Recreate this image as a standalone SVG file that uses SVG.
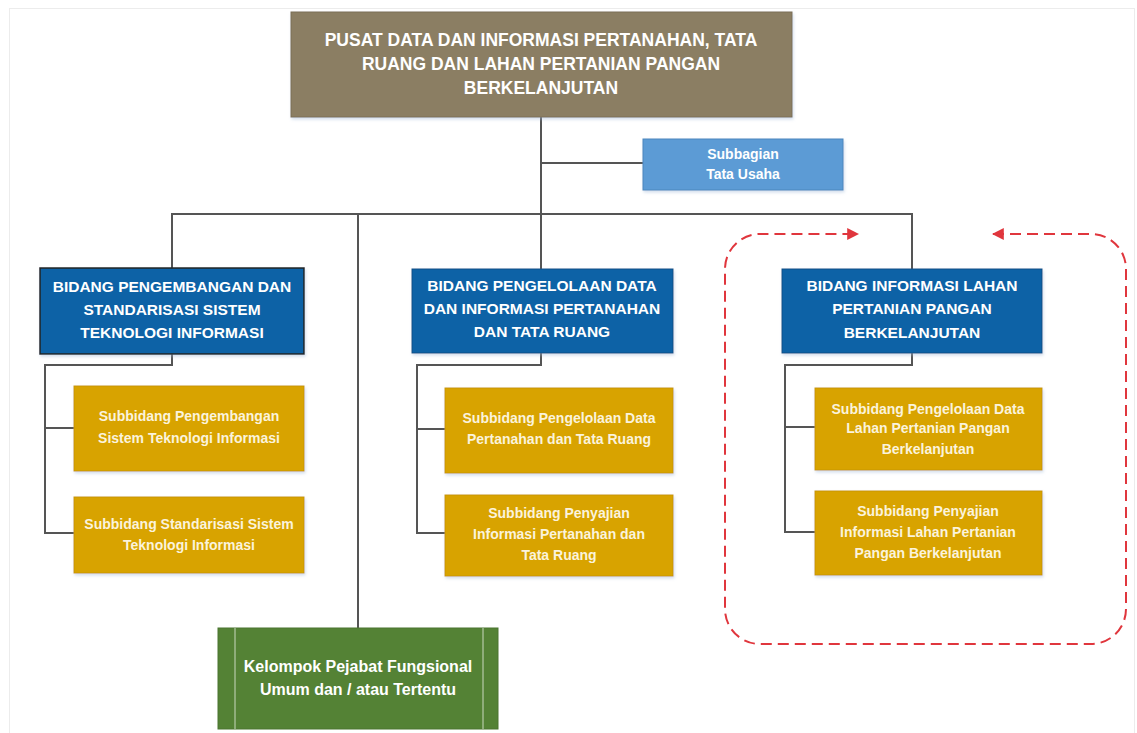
<svg xmlns="http://www.w3.org/2000/svg" width="1137" height="733" viewBox="0 0 1137 733">
  <defs>
    <style>
      .conn { fill: none; stroke: #555555; stroke-width: 2; }
      .txt { font-family: "Liberation Sans", Arial, sans-serif; font-weight: bold; fill: #ffffff; text-anchor: middle; }
      .top { fill: #8B7E63; stroke: #7a6e55; stroke-width: 1; }
      .tu { fill: #5B9BD5; stroke: #4a86bd; stroke-width: 1; }
      .bid { fill: #0862A6; stroke: #0a4f85; stroke-width: 1; }
      .sub { fill: #D8A300; stroke: #c89600; stroke-width: 1; }
      .kel { fill: #548235; stroke: #4a7530; stroke-width: 1; }
      .big { font-size: 17.5px; }
      .bt { font-size: 15.5px; }
      .st { font-size: 14px; fill: #FBF3DC; }
      .red { fill: none; stroke: #E0363D; stroke-width: 2; stroke-dasharray: 11 6; }
    </style>
    <filter id="sh" x="-5%" y="-5%" width="112%" height="120%">
      <feDropShadow dx="1" dy="2" stdDeviation="1.5" flood-color="#9fb6d6" flood-opacity="0.45"/>
    </filter>
    <marker id="arr" viewBox="0 0 10 10" refX="9" refY="5" markerWidth="6" markerHeight="6" orient="auto-start-reverse" markerUnits="strokeWidth">
      <path d="M0,0 L10,5 L0,10 z" fill="#E0363D"/>
    </marker>
  </defs>

  <rect x="0" y="0" width="1137" height="733" fill="#ffffff"/>
  <rect x="9.5" y="8.5" width="1125" height="730" fill="none" stroke="#ececec" stroke-width="1"/>

  <g id="connectors">
    <path class="conn" d="M541 117 V269"/>
    <path class="conn" d="M541 163 H643"/>
    <path class="conn" d="M172 268 V214 H912 V269"/>
    <path class="conn" d="M358 214 V628"/>
    <path class="conn" d="M172 354 V365 H45 V533 H74 M45 428 H74"/>
    <path class="conn" d="M541 353 V365 H417 V533 H445 M417 429 H445"/>
    <path class="conn" d="M912 353 V365 H785 V532 H815 M785 427 H815"/>
  </g>

  <g id="boundary">
    <path class="red" marker-start="url(#arr)" marker-end="url(#arr)" d="M993 234 H1091 A35 35 0 0 1 1126 269 V609 A35 35 0 0 1 1091 644 H760 A35 35 0 0 1 725 609 V269 A35 35 0 0 1 760 234 H858"/>
  </g>

  <g id="pusat">
    <rect class="top" x="291" y="12" width="501" height="105" filter="url(#sh)"/>
    <text class="txt big" x="541" y="46">PUSAT DATA DAN INFORMASI PERTANAHAN, TATA</text>
    <text class="txt big" x="541" y="70">RUANG DAN LAHAN PERTANIAN PANGAN</text>
    <text class="txt big" x="541" y="94">BERKELANJUTAN</text>
  </g>

  <g id="tata-usaha">
    <rect class="tu" x="643" y="139" width="200" height="51" filter="url(#sh)"/>
    <text class="txt" font-size="14" x="743" y="159">Subbagian</text>
    <text class="txt" font-size="14" x="743" y="179">Tata Usaha</text>
  </g>

  <g id="bidang-1">
    <rect x="40" y="268" width="264" height="86" fill="#0862A6" stroke="#222222" stroke-width="1.5" filter="url(#sh)"/>
    <text class="txt bt" x="172" y="292">BIDANG PENGEMBANGAN DAN</text>
    <text class="txt bt" x="172" y="315">STANDARISASI SISTEM</text>
    <text class="txt bt" x="172" y="338">TEKNOLOGI INFORMASI</text>
  </g>

  <g id="bidang-2">
    <rect class="bid" x="412" y="269" width="261" height="84" filter="url(#sh)"/>
    <text class="txt bt" x="542" y="291">BIDANG PENGELOLAAN DATA</text>
    <text class="txt bt" x="542" y="314">DAN INFORMASI PERTANAHAN</text>
    <text class="txt bt" x="542" y="337">DAN TATA RUANG</text>
  </g>

  <g id="bidang-3">
    <rect class="bid" x="782" y="269" width="260" height="84" filter="url(#sh)"/>
    <text class="txt bt" x="912" y="291">BIDANG INFORMASI LAHAN</text>
    <text class="txt bt" x="912" y="314">PERTANIAN PANGAN</text>
    <text class="txt bt" x="912" y="338">BERKELANJUTAN</text>
  </g>

  <g id="sub-1a">
    <rect class="sub" x="74" y="386" width="230" height="85" filter="url(#sh)"/>
    <text class="txt st" x="189" y="421">Subbidang Pengembangan</text>
    <text class="txt st" x="189" y="443">Sistem Teknologi Informasi</text>
  </g>
  <g id="sub-1b">
    <rect class="sub" x="74" y="497" width="230" height="76" filter="url(#sh)"/>
    <text class="txt st" x="189" y="529">Subbidang Standarisasi Sistem</text>
    <text class="txt st" x="189" y="550">Teknologi Informasi</text>
  </g>

  <g id="sub-2a">
    <rect class="sub" x="445" y="388" width="228" height="85" filter="url(#sh)"/>
    <text class="txt st" x="559" y="423">Subbidang Pengelolaan Data</text>
    <text class="txt st" x="559" y="444">Pertanahan dan Tata Ruang</text>
  </g>
  <g id="sub-2b">
    <rect class="sub" x="445" y="495" width="228" height="81" filter="url(#sh)"/>
    <text class="txt st" x="559" y="518">Subbidang Penyajian</text>
    <text class="txt st" x="559" y="539">Informasi Pertanahan dan</text>
    <text class="txt st" x="559" y="560">Tata Ruang</text>
  </g>

  <g id="sub-3a">
    <rect class="sub" x="815" y="388" width="227" height="82" filter="url(#sh)"/>
    <text class="txt st" x="928" y="414">Subbidang Pengelolaan Data</text>
    <text class="txt st" x="928" y="433">Lahan Pertanian Pangan</text>
    <text class="txt st" x="928" y="454">Berkelanjutan</text>
  </g>
  <g id="sub-3b">
    <rect class="sub" x="815" y="491" width="227" height="84" filter="url(#sh)"/>
    <text class="txt st" x="928" y="516">Subbidang Penyajian</text>
    <text class="txt st" x="928" y="537">Informasi Lahan Pertanian</text>
    <text class="txt st" x="928" y="558">Pangan Berkelanjutan</text>
  </g>

  <g id="kelompok">
    <rect class="kel" x="218" y="628" width="280" height="101"/>
    <line x1="235" y1="628" x2="235" y2="729" stroke="#c9d8bf" stroke-width="1"/>
    <line x1="483" y1="628" x2="483" y2="729" stroke="#c9d8bf" stroke-width="1"/>
    <text class="txt" font-size="16" x="358" y="672" fill="#EEF3E8">Kelompok Pejabat Fungsional</text>
    <text class="txt" font-size="16" x="358" y="695" fill="#EEF3E8">Umum dan / atau Tertentu</text>
  </g>
</svg>
